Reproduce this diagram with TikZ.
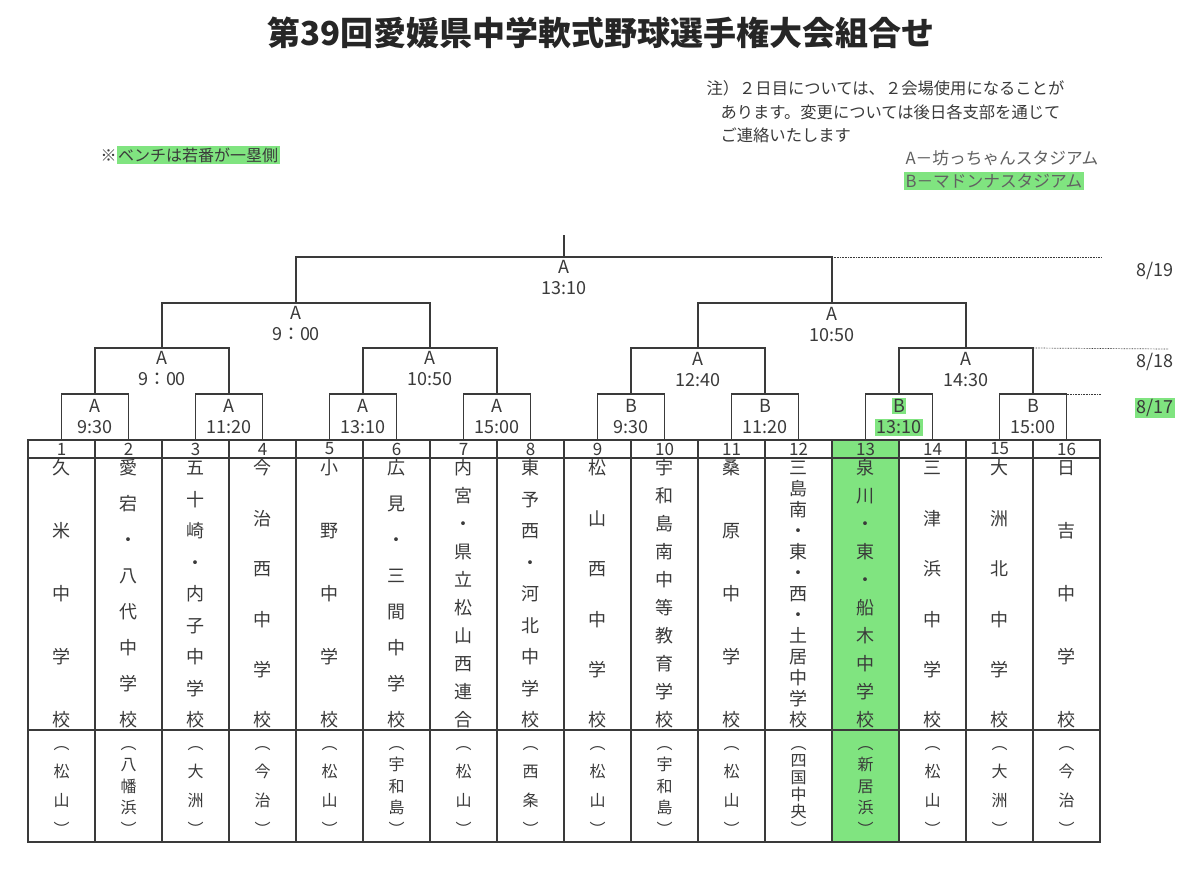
\documentclass[tikz,border=0pt]{standalone}
\usepackage{fontspec}
\setmainfont{Noto Sans CJK JP}
\usetikzlibrary{positioning}

\definecolor{ink}{RGB}{58,58,58}
\definecolor{marker}{RGB}{128,228,128}

% vertical text: one em cell per character, spread over the box
\makeatletter
\newcommand{\tate}[1]{\@tempswafalse\@tfor\tch:=#1\do{\if@tempswa\vfill\fi\@tempswatrue
  \hbox to\linewidth{\hss\rule[-.12em]{0pt}{1em}\tch\hss}}}
\makeatother
\newcommand{\namecol}[1]{\parbox[c][268pt][s]{60pt}{\tate{#1}}}
\newcommand{\areacol}[1]{\parbox[c][100pt][s]{60pt}{\tate{︵#1︶}}}
\newcommand{\mkhl}[1]{{\setlength{\fboxsep}{1.5pt}\colorbox{marker}{#1}}}

\begin{document}
\begin{tikzpicture}[x=1pt, y=1pt, color=ink, line width=1.1pt,
    numcell/.style = {draw, outer sep=0pt, inner sep=0pt, minimum width=67pt, minimum height=18pt, font=\fontsize{17}{17}\selectfont},
    namecell/.style = {draw, outer sep=0pt, inner sep=0pt, minimum width=67pt, minimum height=272pt, font=\fontsize{18}{18}\selectfont},
    areacell/.style = {draw, outer sep=0pt, inner sep=0pt, minimum width=67pt, minimum height=112pt, font=\fontsize{16}{16}\selectfont},
    matchbox/.style = {draw, outer sep=0pt, inner sep=0pt, minimum width=67pt, minimum height=46pt, align=center, font=\fontsize{18}{21}\selectfont},
    timelbl/.style = {inner sep=0pt, align=center, font=\fontsize{18}{21}\selectfont},
    datelbl/.style = {inner sep=0pt, font=\fontsize{18}{18}\selectfont},
    datelink/.style = {line width=0.7pt, dash pattern=on 0.7pt off 0.9pt},
    hot/.style = {fill=marker}]
  \fill[white] (0,0) rectangle (1200,-886);
  \useasboundingbox (0,0) rectangle (1200,-886);

  % heading and notes
  \node[text=black!85, font=\fontsize{33}{36}\selectfont\bfseries] (title) at (601,-33) {第39回愛媛県中学軟式野球選手権大会組合せ};
  \node[anchor=north west, inner sep=0pt, align=left, font=\fontsize{16.3}{23.5}\selectfont] (note) at (706,-80)
    {注）２日目については、２会場使用になることが\\\hspace*{14pt}あります。変更については後日各支部を通じて\\\hspace*{14pt}ご連絡いたします};
  \node[anchor=west, inner sep=0pt, font=\fontsize{16}{16}\selectfont] (bench) at (100,-155) {※\mkhl{ベンチは若番が一塁側}};
  \node[anchor=west, inner sep=0pt, text=ink!80, font=\fontsize{16.7}{16.7}\selectfont] (stadA) at (905,-158) {A－坊っちゃんスタジアム};
  \node[anchor=west, inner sep=0pt, text=ink!80, font=\fontsize{16.7}{16.7}\selectfont] (stadB) at (903.5,-181) {\mkhl{B－マドンナスタジアム}};

  % numbers
  \node[numcell] (n1) at (61.5,-449) {1};
  \node[numcell] (n2) [right of=n1, node distance=67pt] {2};
  \node[numcell] (n3) [right of=n2, node distance=67pt] {3};
  \node[numcell] (n4) [right of=n3, node distance=67pt] {4};
  \node[numcell] (n5) [right of=n4, node distance=67pt] {5};
  \node[numcell] (n6) [right of=n5, node distance=67pt] {6};
  \node[numcell] (n7) [right of=n6, node distance=67pt] {7};
  \node[numcell] (n8) [right of=n7, node distance=67pt] {8};
  \node[numcell] (n9) [right of=n8, node distance=67pt] {9};
  \node[numcell] (n10) [right of=n9, node distance=67pt] {10};
  \node[numcell] (n11) [right of=n10, node distance=67pt] {11};
  \node[numcell] (n12) [right of=n11, node distance=67pt] {12};
  \node[numcell, hot] (n13) [right of=n12, node distance=67pt] {13};
  \node[numcell] (n14) [right of=n13, node distance=67pt] {14};
  \node[numcell] (n15) [right of=n14, node distance=67pt] {15};
  \node[numcell] (n16) [right of=n15, node distance=67pt] {16};

  % schools
  \node[namecell] (s1) [below of=n1, node distance=145pt] {\namecol{久米中学校}};
  \node[namecell] (s2) [below of=n2, node distance=145pt] {\namecol{愛宕・八代中学校}};
  \node[namecell] (s3) [below of=n3, node distance=145pt] {\namecol{五十崎・内子中学校}};
  \node[namecell] (s4) [below of=n4, node distance=145pt] {\namecol{今治西中学校}};
  \node[namecell] (s5) [below of=n5, node distance=145pt] {\namecol{小野中学校}};
  \node[namecell] (s6) [below of=n6, node distance=145pt] {\namecol{広見・三間中学校}};
  \node[namecell] (s7) [below of=n7, node distance=145pt] {\namecol{内宮・県立松山西連合}};
  \node[namecell] (s8) [below of=n8, node distance=145pt] {\namecol{東予西・河北中学校}};
  \node[namecell] (s9) [below of=n9, node distance=145pt] {\namecol{松山西中学校}};
  \node[namecell] (s10) [below of=n10, node distance=145pt] {\namecol{宇和島南中等教育学校}};
  \node[namecell] (s11) [below of=n11, node distance=145pt] {\namecol{桑原中学校}};
  \node[namecell] (s12) [below of=n12, node distance=145pt] {\namecol{三島南・東・西・土居中学校}};
  \node[namecell, hot] (s13) [below of=n13, node distance=145pt] {\namecol{泉川・東・船木中学校}};
  \node[namecell] (s14) [below of=n14, node distance=145pt] {\namecol{三津浜中学校}};
  \node[namecell] (s15) [below of=n15, node distance=145pt] {\namecol{大洲北中学校}};
  \node[namecell] (s16) [below of=n16, node distance=145pt] {\namecol{日吉中学校}};

  % areas
  \node[areacell] (a1) [below of=s1, node distance=192pt] {\areacol{松山}};
  \node[areacell] (a2) [below of=s2, node distance=192pt] {\areacol{八幡浜}};
  \node[areacell] (a3) [below of=s3, node distance=192pt] {\areacol{大洲}};
  \node[areacell] (a4) [below of=s4, node distance=192pt] {\areacol{今治}};
  \node[areacell] (a5) [below of=s5, node distance=192pt] {\areacol{松山}};
  \node[areacell] (a6) [below of=s6, node distance=192pt] {\areacol{宇和島}};
  \node[areacell] (a7) [below of=s7, node distance=192pt] {\areacol{松山}};
  \node[areacell] (a8) [below of=s8, node distance=192pt] {\areacol{西条}};
  \node[areacell] (a9) [below of=s9, node distance=192pt] {\areacol{松山}};
  \node[areacell] (a10) [below of=s10, node distance=192pt] {\areacol{宇和島}};
  \node[areacell] (a11) [below of=s11, node distance=192pt] {\areacol{松山}};
  \node[areacell] (a12) [below of=s12, node distance=192pt] {\areacol{四国中央}};
  \node[areacell, hot] (a13) [below of=s13, node distance=192pt] {\areacol{新居浜}};
  \node[areacell] (a14) [below of=s14, node distance=192pt] {\areacol{松山}};
  \node[areacell] (a15) [below of=s15, node distance=192pt] {\areacol{大洲}};
  \node[areacell] (a16) [below of=s16, node distance=192pt] {\areacol{今治}};

  % first round
  \node[matchbox] (m1) at (95,-417) {A\\9:30};
  \node[matchbox] (m2) at (229,-417) {A\\11:20};
  \node[matchbox] (m3) at (363,-417) {A\\13:10};
  \node[matchbox] (m4) at (497,-417) {A\\15:00};
  \node[matchbox] (m5) at (631,-417) {B\\9:30};
  \node[matchbox] (m6) at (765,-417) {B\\11:20};
  \node[matchbox] (m7) at (899,-417) {\mkhl{B}\\\mkhl{13:10}};
  \node[matchbox] (m8) at (1033,-417) {B\\15:00};

  \coordinate (j1) at (162,-348);
  \coordinate (j2) at (430,-348);
  \coordinate (j3) at (698,-348);
  \coordinate (j4) at (966,-348);
  \coordinate (k1) at (296,-303);
  \coordinate (k2) at (832,-303);
  \coordinate (fin) at (564,-257);
  \coordinate (stem) at (564,-235);

  \draw (m1.north) |- (j1) -| (m2.north);
  \draw (m3.north) |- (j2) -| (m4.north);
  \draw (m5.north) |- (j3) -| (m6.north);
  \draw (m7.north) |- (j4) -| (m8.north);
  \draw (j1) |- (k1) -| (j2);
  \draw (j3) |- (k2) -| (j4);
  \draw (k1) |- (fin) -| (k2);
  \draw (fin) -- (stem);

  \node[timelbl, below=3pt of j1] (t1) {A\\9：00};
  \node[timelbl, below=3pt of j2] (t2) {A\\10:50};
  \node[timelbl, below=4pt of j3] (t3) {A\\12:40};
  \node[timelbl, below=4pt of j4] (t4) {A\\14:30};
  \node[timelbl, below=3pt of k1] (u1) {A\\9：00};
  \node[timelbl, below=4pt of k2] (u2) {A\\10:50};
  \node[timelbl, below=3pt of fin] (v1) {A\\13:10};

  % days
  \coordinate (d19) at (1101,-257);
  \coordinate (d18) at (1168,-349);
  \coordinate (d17) at (1101,-394);
  \draw[datelink] (k2 |- fin) -- (d19);
  \draw[datelink] (m8.north |- j4) -- (d18);
  \draw[datelink] (m8.north east) -- (d17);
  \node[datelbl] (l19) at (1155,-271) {8/19};
  \node[datelbl] (l18) at (1155,-362) {8/18};
  \node[datelbl] (l17) at (1155,-408) {\mkhl{8/17}};
\end{tikzpicture}
\end{document}
